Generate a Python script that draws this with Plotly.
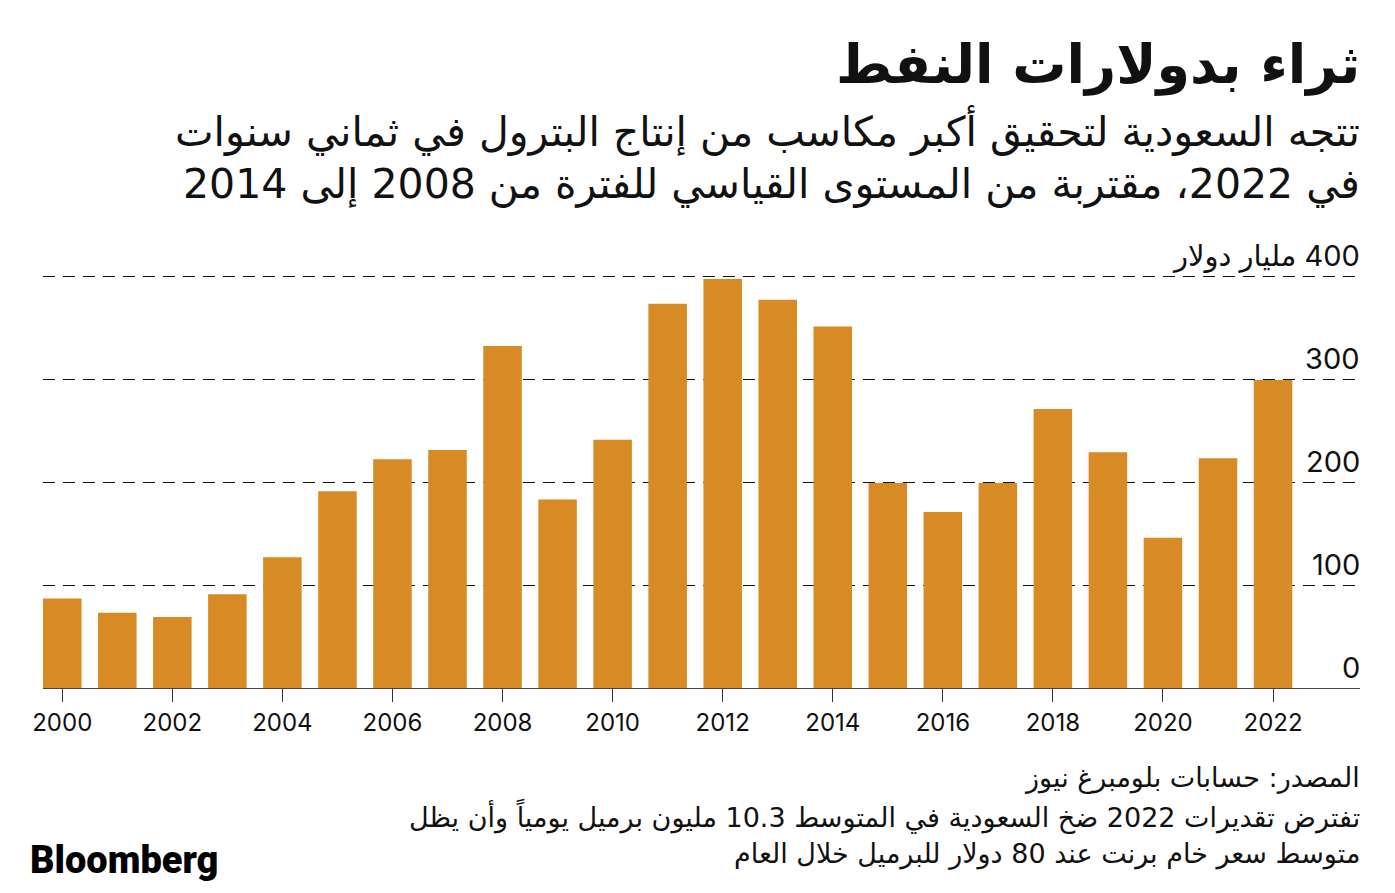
import plotly.graph_objects as go

years = list(range(2000, 2023))
revenue = [87, 73, 69, 91, 127, 191, 222, 231, 332, 183, 241, 373, 397, 377, 351,
           199, 171, 199, 271, 229, 146, 223, 299]
tick_years = list(range(2000, 2023, 2))
y_ticks = [0, 100, 200, 300, 400]
y_tick_labels = ["0", "100", "200", "300", "400 مليار دولار"]

title = "ثراء بدولارات النفط"
subtitle = ["تتجه السعودية لتحقيق أكبر مكاسب من إنتاج البترول في ثماني سنوات",
            "في 2022، مقتربة من المستوى القياسي للفترة من 2008 إلى 2014"]
footer = ["المصدر: حسابات بلومبرغ نيوز",
          "تفترض تقديرات 2022 ضخ السعودية في المتوسط 10.3 مليون برميل يومياً وأن يظل",
          "متوسط سعر خام برنت عند 80 دولار للبرميل خلال العام"]

RLE, PDF = "\u202B", "\u202C"
def rtl(s):
    return RLE + s + PDF

FONT = "Inter, DejaVu Sans, sans-serif"
AR_FONT = "DejaVu Sans, sans-serif"
W, H = 1395, 893
L, R, T, B = 43, 35, 275, 205
YMAX = 401

fig = go.Figure(go.Bar(x=years, y=revenue, marker=dict(color="#D88A25", line=dict(width=0)),
                       hoverinfo="skip"))

fig.update_layout(
    width=W, height=H, autosize=False,
    margin=dict(l=L, r=R, t=T, b=B),
    plot_bgcolor="white", paper_bgcolor="white",
    bargap=0.3, showlegend=False,
    font=dict(family=FONT, color="#111"),
    xaxis=dict(range=[1999.65, 2023.58], tickvals=tick_years, ticks="outside", ticklen=13,
               tickcolor="#333", tickwidth=1, showline=True, linecolor="#444", linewidth=1,
               showgrid=False, zeroline=False, tickfont=dict(size=24, family=FONT, color="#111"),
               fixedrange=True),
    yaxis=dict(range=[0, YMAX], tickvals=[100, 200, 300, 400], showticklabels=False,
               showgrid=True, gridcolor="#111", gridwidth=1, griddash="12px,8px",
               zeroline=False, showline=False, fixedrange=True),
)

ann = []
for v, lab in zip(y_ticks, y_tick_labels):
    ann.append(dict(x=1.0, xref="paper", y=v, yref="y", yshift=1, xshift=2,
                    text=rtl(lab), showarrow=False, xanchor="right", yanchor="bottom",
                    font=dict(size=29, family=FONT, color="#111")))

def paper_x(px):
    return (px - L) / (W - L - R)
def paper_y(py):
    return (H - B - py) / (H - T - B)

extra = [
    dict(text=rtl(title), px=1362, py=64, size=54, weight=700),
    dict(text=rtl(subtitle[0]), px=1362, py=131, size=41, weight=400),
    dict(text=rtl(subtitle[1]), px=1362, py=185, size=41, weight=400),
    dict(text=rtl(footer[0]), px=1362, py=778, size=27, weight=400),
    dict(text=rtl(footer[1]), px=1362, py=816, size=27, weight=400),
    dict(text=rtl(footer[2]), px=1362, py=854, size=27, weight=400),
]
for e in extra:
    ann.append(dict(x=paper_x(e["px"]), xref="paper", y=paper_y(e["py"]), yref="paper",
                    text=e["text"], showarrow=False, xanchor="right", yanchor="middle",
                    align="right",
                    font=dict(size=e["size"], family=AR_FONT, color="#111", weight=e["weight"])))
ann.append(dict(x=paper_x(28), xref="paper", y=paper_y(860), yref="paper",
                text="Bloomberg", showarrow=False, xanchor="left", yanchor="middle",
                font=dict(size=38, family="Roboto, Arial, sans-serif", color="#000", weight=900)))
fig.update_layout(annotations=ann)

fig.write_html("out.html", config={"displayModeBar": False},
               post_script="document.body.style.margin='0';document.documentElement.style.margin='0';")
